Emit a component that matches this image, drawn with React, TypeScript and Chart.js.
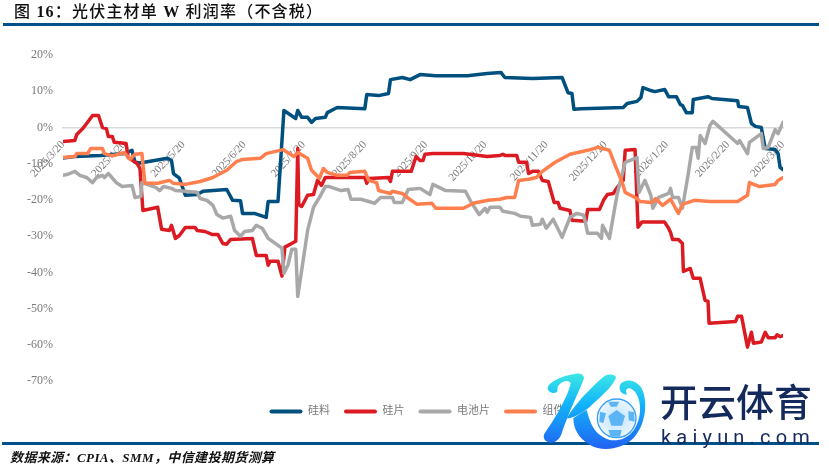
import React, { useEffect, useRef } from "react";
import { Chart, registerables } from "chart.js";

Chart.register(...registerables);

const tickDates = ["2025/3/20","2025/4/20","2025/5/20","2025/6/20","2025/7/20","2025/8/20","2025/9/20","2025/10/20","2025/11/20","2025/12/20","2026/1/20","2026/2/20","2026/3/20"];
const tickDays = [0,31,61,92,122,153,184,214,245,275,306,337,365];

const materialDays = [0,6,19,31,35,36.5,39,53,55,56,59,62,68,71,83,86,90,91,97,103,104,109,112,118,119,121,124,126,128,133,134,139,153,154,160,165,166,172,176,181,189,205,215,222,224,238,253,256,258,259,263,284,286,291,293,294,298,300,305,307,311,313,314,316,319,319.5,327,329,342,342.5,347,349,351,354,356,361,362.5,363.5,365];
const materialValues = [-8.4,-8,-7.7,-7.2,-6.3,-9.6,-9.8,-8.5,-9.1,-12.7,-14,-18.7,-18.5,-17.6,-17.1,-20.1,-20.2,-23.7,-23.7,-24.8,-20.4,-20.4,4.7,2.5,4.7,2.8,2.8,1.4,2.5,2.8,4.1,5.5,5.2,9.1,8.8,9.4,13.2,13.8,13.2,14.6,14.3,14.3,14.9,15.2,13.8,13.5,13.8,9.6,9.4,5,5.2,5.5,6.6,7.2,8.3,11,10.2,9.9,10.5,8.5,8.5,6.3,6.1,4.1,4.1,7.7,8.5,8,7.4,5.8,5.5,1.1,0.3,0,-5.8,-6.1,-7.2,-11,-11.6];

const waferDays = [0,6,7,10,12,15,18,20,22,23,25,26,32,33,37.5,39,40.5,48,50,54,55,57,59,62,67,68,72,75.5,78.5,81,83,85,96,98,103,104,105,109,111,112.5,118,119,119.5,121,124,127,129,131,133,153,154,155,165,166,167,176.5,179,181,182.5,183.5,187.5,203,215,221.5,223,224,230,231,235,236,238,241,243,246,249,251,252,257,258,265,266,272,274,276,279,281,284,285,290,291.5,293.5,305,307,308,309,312,314,314.5,318,319.5,323,325.5,327,327.5,341,342,344,347,349,350,354,356,357.5,361,362,363.5,365];
const waferValues = [-3.9,-3.6,-1.9,-0.3,1.1,3.3,3.3,0,-0.3,-2.5,-2.5,-4.1,-4.4,-8.3,-9.9,-11.3,-22.9,-22,-28.1,-28.4,-27,-30.6,-29.8,-27.6,-27.6,-28.4,-28.7,-29.5,-29.5,-32,-32.2,-30.9,-30.6,-35.3,-35.3,-38,-36.9,-36.9,-41,-33,-31.4,-5.8,-21.2,-21.8,-18.7,-18.5,-14.6,-16,-13.8,-13.8,-15.4,-14.1,-13.8,-14.9,-12.1,-12.1,-8,-9.1,-9.1,-7.4,-7.2,-7.2,-8,-7.7,-7.4,-7.7,-7.7,-9.6,-9.6,-12.7,-12.1,-12.1,-14.6,-14.9,-20.7,-20.7,-22.3,-22.9,-25.6,-25.9,-22.6,-22.6,-20.1,-18.5,-18.2,-16.5,-14.6,-6.3,-6.1,-27.5,-26.1,-26.1,-27.8,-29,-30.9,-30.9,-32,-39.7,-38.9,-41.6,-41.6,-47.7,-48,-54,-53.5,-52.1,-52.1,-60.6,-56.5,-59.5,-59.2,-56.5,-58,-58,-57.2,-57.7,-57.4];

const cellDays = [0,2.5,6,8.5,12,15,17,20,21,23,27,30,35,36.5,39.5,40,47,49,51,55,57,62,68,69.5,73,76,78,81,85,87,90,92,96,98,101,104,111,112,114,116,118,119,121,124,127,130,133,135,141,144.5,146,151,158,161,167,168,172,175,181,186,187.5,194,204,207,211,214,215,216.5,221.5,223,229,232,237,238,242,243,245,248.5,253,257,260.5,264,266,271,273,273.5,277,281,285,291,292,295,298,299,302,307,308,309,312,314,317,319,321,322,323,325.5,328,329.5,342,343,347,348,354,355,357.5,361,362.5,365];
const cellValues = [-13.2,-12.9,-12.1,-13.2,-13.8,-15.2,-13.8,-13.2,-13.8,-12.7,-15.2,-16.3,-16,-19.3,-19,-15.2,-16.5,-17.4,-16.3,-16.8,-17.4,-17.6,-17.9,-19.6,-20.1,-21.5,-24,-25,-24.5,-28.4,-30,-28.7,-28.4,-27,-27.8,-30.6,-33.3,-40.2,-38,-33.6,-33.6,-46.6,-39.4,-28.4,-22,-19.3,-16.3,-16.3,-17.4,-17.1,-19.8,-19.8,-20.9,-19.3,-19.3,-20.7,-20.7,-17.1,-16.8,-18.5,-15.7,-17.4,-17.6,-20.7,-24,-22.3,-23.4,-22,-22,-23.1,-23.7,-24.5,-24.8,-27,-26.7,-25.3,-27.8,-25.3,-30.3,-24.8,-23.7,-24.2,-29.2,-29.2,-30.6,-27,-30.6,-18.2,-9.6,-8.3,-17.9,-14.6,-18.7,-22.3,-19.3,-18.2,-16.8,-19.3,-19.3,-22.3,-12.7,-5.5,-5.5,-8.5,-2.2,-4.4,0.6,1.7,-4.4,-3.6,-7.2,-4.1,-1.7,-5.8,-5.5,-0.6,-1.7,1.4];

const moduleDays = [0,6,7,12.5,14,20,21,24,26,31,34,36.5,40,41.5,48,54,56,62,69.5,76,83,88,91,100,103,111.5,117,119,124,126,130,132,134,139,144,145.5,153,155,159,160,166,167,172,174.5,179.5,187,189,203,208,215.5,221.5,225,229,231,236,240,243,249.5,257,266,271,277,280,283.5,285,291,292.5,298.5,300.5,304,308,312,314,320,328,342,347,348,353,361,362.5,365];
const moduleValues = [-8.3,-8,-7.2,-7.2,-5.8,-5.8,-7.2,-7.7,-7.7,-6.9,-8.8,-7.4,-7.2,-15.4,-15.4,-14.6,-15.4,-15.7,-14.9,-13.8,-11.8,-9.4,-8.8,-8.5,-7.2,-6.1,-8,-6.9,-8.5,-11.8,-14,-11.3,-12.4,-13.2,-13.2,-12.4,-12.1,-14.6,-15.2,-17.4,-18.2,-17.6,-18.2,-19.3,-21.2,-20.9,-22.3,-22.3,-20.9,-20.1,-19.8,-19.3,-19.3,-14.6,-14.3,-13.8,-12.1,-9.6,-7.4,-6.3,-5.5,-6.3,-10.5,-15.2,-17.9,-19.6,-20.4,-20.7,-19.6,-21.5,-19.8,-23.7,-21.2,-20.1,-20.4,-20.4,-18.7,-15.2,-16.3,-15.7,-14.6,-13.8];

const seriesNames = ["硅料", "硅片", "电池片", "组件"];
const seriesColors = ["#00507F", "#DC1A22", "#A8A8A8", "#FF7F4F"];
const seriesDays = [materialDays, waferDays, cellDays, moduleDays];
const seriesValues = [materialValues, waferValues, cellValues, moduleValues];
const yTicks = [20, 10, 0, -10, -20, -30, -40, -50, -60, -70];

const CJK = '"Liberation Serif","Noto Sans CJK SC",serif';

const shiftLegend = {
  id: "shiftLegend",
  afterLayout(chart: any) {
    chart.legend.left += 25.5;
    chart.legend.right += 25.5;
  },
};

export default function App() {
  const ref = useRef<HTMLCanvasElement>(null);
  useEffect(() => {
    const chart = new Chart(ref.current!, {
      type: "line",
      plugins: [shiftLegend],
      data: {
        datasets: seriesNames.map((name, i) => ({
          label: name,
          data: seriesDays[i].map((d, j) => ({ x: d, y: seriesValues[i][j] })),
          borderColor: seriesColors[i],
          backgroundColor: seriesColors[i],
          borderWidth: 3.5,
          borderJoinStyle: "round" as const,
          borderCapStyle: "round" as const,
          pointRadius: 0,
          tension: 0,
          fill: false,
          order: 4 - i,
        })),
      },
      options: {
        animation: false,
        responsive: false,
        layout: { padding: { top: 55, right: 46, bottom: 44, left: 0 } },
        plugins: {
          tooltip: { enabled: false },
          legend: {
            position: "bottom",
            title: { display: true, text: " ", padding: { top: 0, bottom: 0 }, font: { size: 9 } },
            labels: {
              boxWidth: 33,
              boxHeight: 4,
              padding: 14,
              useBorderRadius: true,
              borderRadius: 2,
              color: "#7a7a7a",
              font: { family: CJK, size: 11 },
              sort: (a: any, b: any) => a.datasetIndex - b.datasetIndex,
              generateLabels: (c: any) =>
                Chart.defaults.plugins.legend.labels.generateLabels(c).map((l: any) => ({ ...l, lineWidth: 0 })),
            },
          },
        },
        scales: {
          x: {
            type: "linear",
            min: 0,
            max: 365,
            position: { y: 0 } as any,
            grid: { display: false },
            border: { color: "#D9D9D9", width: 1.5 },
            afterBuildTicks: (s: any) => {
              s.ticks = tickDays.map((v) => ({ value: v }));
            },
            ticks: {
              autoSkip: false,
              minRotation: 47,
              maxRotation: 47,
              color: "#7a7a7a",
              font: { family: "Liberation Serif", size: 11 },
              callback: (v: any) => {
                const i = tickDays.indexOf(Number(v));
                return i >= 0 ? tickDates[i] : "";
              },
            },
          },
          y: {
            min: -70,
            max: 20,
            grid: { display: false },
            border: { display: false },
            afterFit: (s: any) => {
              s.width = 63;
            },
            afterBuildTicks: (s: any) => {
              s.ticks = yTicks.map((v) => ({ value: v }));
            },
            ticks: {
              padding: 2,
              color: "#7a7a7a",
              font: { family: "Liberation Serif", size: 12 },
              callback: (v: any) => `${v}%`,
            },
          },
        },
      },
    } as any);
    return () => chart.destroy();
  }, []);

  return (
    <div style={{ position: "absolute", left: 0, top: 0, width: 829, height: 471, background: "#fff", overflow: "hidden" }}>
      <canvas ref={ref} width={829} height={471} style={{ position: "absolute", left: 0, top: 0 }} />
      <div style={{ position: "absolute", left: 14, top: 1, fontFamily: CJK, fontSize: 16, fontWeight: 500, letterSpacing: 1.2, color: "#111", lineHeight: "22px", whiteSpace: "nowrap" }}>
        图 <b>16</b>：光伏主材单 <b>W</b> 利润率（不含税）
      </div>
      <div style={{ position: "absolute", left: 3, width: 816, top: 23, height: 3, background: "#00508A" }} />
      <div style={{ position: "absolute", left: 2, width: 817, top: 442, height: 3, background: "#00508A" }} />
      <div style={{ position: "absolute", left: 10, top: 449, fontFamily: CJK, fontSize: 13, letterSpacing: 0.4, fontStyle: "italic", fontWeight: 600, color: "#111", lineHeight: "18px", whiteSpace: "nowrap" }}>
        数据来源：CPIA、SMM，中信建投期货测算
      </div>
      <svg width={829} height={471} style={{ position: "absolute", left: 0, top: 0 }}>
        <defs>
          <linearGradient id="kg" gradientUnits="userSpaceOnUse" x1="0" y1="55" x2="0" y2="285">
            <stop offset="0" stopColor="#3CE8E4" />
            <stop offset="0.4" stopColor="#12B4FA" />
            <stop offset="1" stopColor="#2160F2" />
          </linearGradient>
          <radialGradient id="bg" cx="0.5" cy="0.5" r="0.5">
            <stop offset="0" stopColor="#BFE4FF" />
            <stop offset="1" stopColor="#EAF6FF" />
          </radialGradient>
        </defs>
        <g transform="translate(540 355) scale(0.3333)">
          <path d="M100 58 C118 52 132 58 132 70 C120 105 95 150 65 235 C60 255 40 268 25 262 C12 258 8 245 14 235 C50 185 85 120 92 85 C85 72 65 80 55 92 C50 100 55 108 50 112 C35 118 22 108 23 98 C28 80 70 62 100 58 Z" fill="url(#kg)" />
          <path d="M80 190 C110 140 165 85 195 62 C210 55 228 60 228 68 C215 100 175 130 150 155 C125 175 100 190 80 190 Z" fill="url(#kg)" />
          <path d="M100 190 C115 180 130 170 140 165 C150 200 160 240 210 255 C260 262 295 225 300 170 C303 130 285 100 265 100 C255 103 258 115 262 118 C245 120 235 105 240 90 C250 72 285 70 305 100 C325 140 318 210 280 250 C245 285 185 290 150 270 C115 250 100 220 100 190 Z" fill="url(#kg)" />
          <circle cx="230" cy="190" r="58" fill="url(#bg)" stroke="#3AA0F5" strokeWidth="4" />
          <polygon points="230,165 255,183 246,212 214,212 205,183" fill="#5DB4F5" />
          <polygon points="205,140 238,140 230,155 212,155" fill="#5DB4F5" />
          <polygon points="180,170 198,175 190,205 178,200" fill="#5DB4F5" />
          <polygon points="265,168 282,172 284,200 266,196" fill="#5DB4F5" />
          <polygon points="205,225 245,225 240,245 212,245" fill="#5DB4F5" />
        </g>
        <text x="660" y="416" fontFamily='"Noto Sans CJK SC"' fontWeight="500" fontSize="38" fill="#14295C">开云体育</text>
        <text x="661" y="444" fontFamily="Roboto" fontWeight="400" fontSize="20" letterSpacing="5.2" fill="#14295C">kaiyun.com</text>
      </svg>
    </div>
  );
}
